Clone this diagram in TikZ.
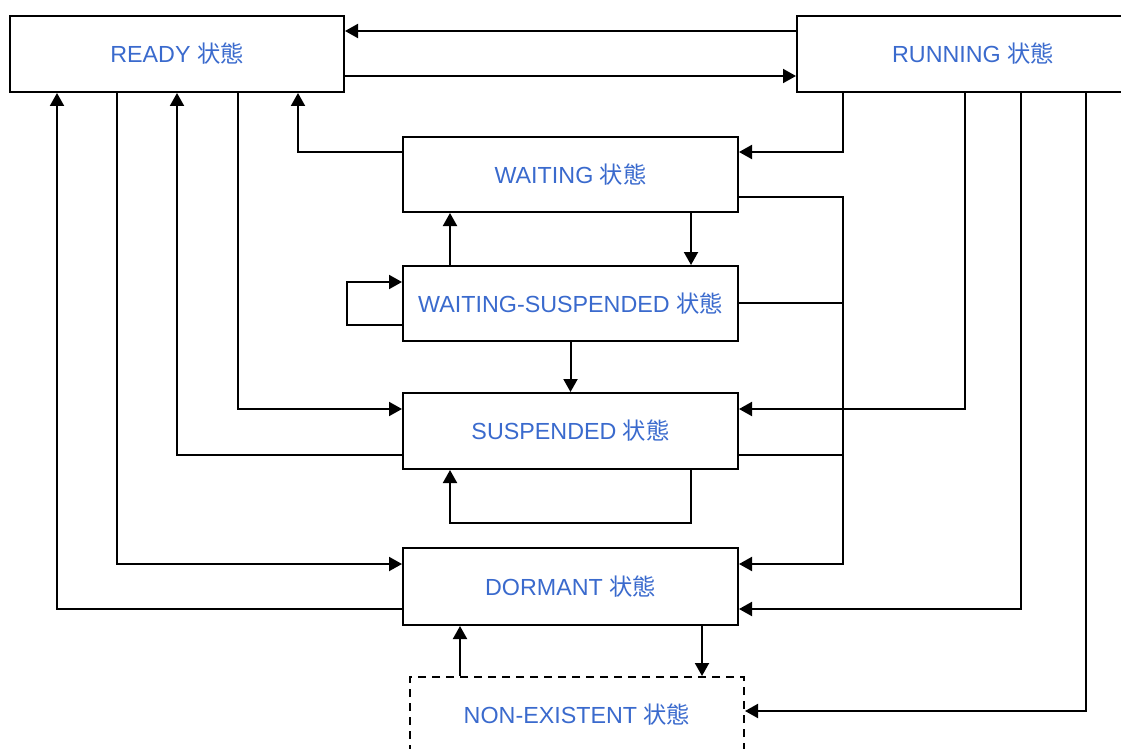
\documentclass[tikz,border=0pt]{standalone}
\usepackage{fontspec}
\setmainfont{Liberation Sans}
\newfontfamily\cjk{Noto Sans CJK JP}
\usetikzlibrary{arrows.meta}
\definecolor{statetext}{RGB}{58,106,205}
% state label: name followed by the Japanese word for "state"
\newcommand{\statelabel}[1]{\raisebox{2pt}{#1 {\cjk 状態}}}
\tikzset{
  state/.style={draw, line width=2pt, minimum width=335pt, minimum height=76pt,
    inner sep=0pt, text=statetext, font=\fontsize{23.3}{27}\selectfont},
  arr/.style={line width=2pt, -{Triangle[length=13pt,width=14pt]}},
  wire/.style={line width=2pt},
}
\begin{document}
\begin{tikzpicture}[x=1pt,y=-1pt]
\useasboundingbox (0,0) rectangle (1121,749);
\clip (0,0) rectangle (1121,749);

% state boxes
\node[state, minimum width=334pt] (ready) at (177,54) {\statelabel{READY}};
\node[state, minimum width=352pt] (running) at (973,54) {\statelabel{RUNNING}};
\node[state, minimum height=75pt] (waiting) at (570.5,174.5) {\statelabel{WAITING}};
\node[state, minimum height=75pt] (ws) at (570.5,303.5) {\statelabel{WAITING-SUSPENDED}};
\node[state] (susp) at (570.5,431) {\statelabel{SUSPENDED}};
\node[state, minimum height=77pt] (dormant) at (570.5,586.5) {\statelabel{DORMANT}};
\node[state, minimum width=334pt, dash pattern=on 8pt off 6pt] (ne) at (577,715) {\statelabel{NON-EXISTENT}};

% READY <-> RUNNING
\draw[arr] (running.west |- 0,31) -- (ready.east |- 0,31);
\draw[arr] (ready.east |- 0,76) -- (running.west |- 0,76);

% RUNNING -> WAITING, WAITING -> READY
\draw[arr] (running.south -| 843,0) |- (waiting.east |- 0,152);
\draw[arr] (waiting.west |- 0,152) -| (ready.south -| 298,0);

% READY <-> DORMANT, READY <-> SUSPENDED
\draw[arr] (dormant.west |- 0,609) -| (ready.south -| 57,0);
\draw[arr] (ready.south -| 117,0) |- (dormant.west |- 0,564);
\draw[arr] (susp.west |- 0,455) -| (ready.south -| 177,0);
\draw[arr] (ready.south -| 238,0) |- (susp.west |- 0,409);

% WAITING <-> WAITING-SUSPENDED
\draw[arr] (ws.north -| 450,0) -- (waiting.south -| 450,0);
\draw[arr] (waiting.south -| 691,0) -- (ws.north -| 691,0);

% self loops
\draw[arr] (ws.west |- 0,325) -- ++(-55,0) |- (ws.west |- 0,282);
\draw[arr] (susp.south -| 691,0) -- ++(0,53) -| (susp.south -| 450,0);

% WAITING-SUSPENDED -> SUSPENDED
\draw[arr] (ws.south) -- (susp.north);

% WAITING / WAITING-SUSPENDED / SUSPENDED -> DORMANT
\coordinate (bus) at (843,197);
\draw[arr] (waiting.east |- bus) -- (bus) |- (dormant.east |- 0,564);
\draw[wire] (ws.east |- 0,303) -- (bus |- 0,303);
\draw[wire] (susp.east |- 0,455) -- (bus |- 0,455);

% RUNNING -> SUSPENDED, DORMANT, NON-EXISTENT
\draw[arr] (running.south -| 965,0) |- (susp.east |- 0,409);
\draw[arr] (running.south -| 1021,0) |- (dormant.east |- 0,609);
\draw[arr] (running.south -| 1086,0) |- (ne.east |- 0,711);

% DORMANT <-> NON-EXISTENT
\draw[arr] (ne.north -| 460,0) -- (dormant.south -| 460,0);
\draw[arr] (dormant.south -| 702,0) -- (ne.north -| 702,0);
\end{tikzpicture}
\end{document}
